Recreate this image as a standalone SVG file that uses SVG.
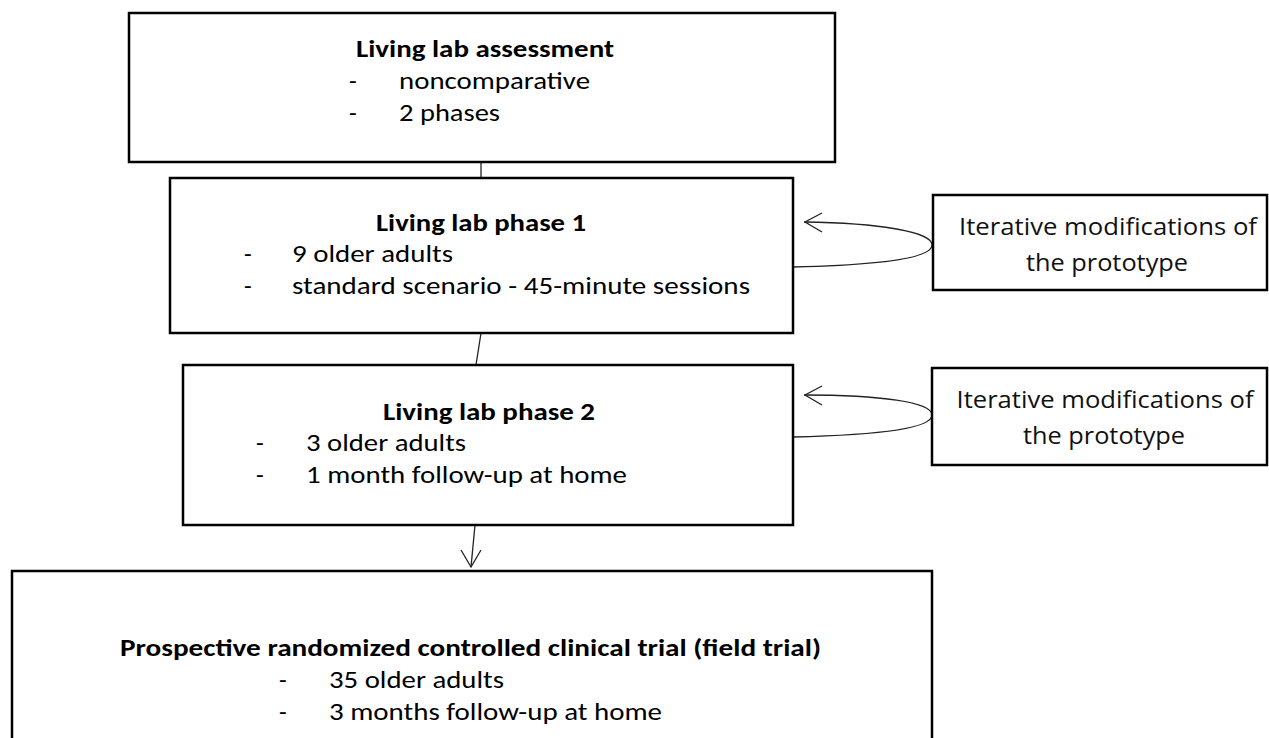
<svg xmlns="http://www.w3.org/2000/svg" width="1269" height="738" viewBox="0 0 1269 738">
<style>
.box{fill:#fff;stroke:#000;stroke-width:2.5}
.t{font-family:Carlito,Lato,"Liberation Sans",sans-serif;font-size:25px;fill:#000}
.b{font-weight:bold}
.r{font-family:"Open Sans","Noto Sans",sans-serif;font-size:23px;fill:#111;text-anchor:middle}
.c{fill:none;stroke:#222;stroke-width:1.3}
</style>
<rect width="1269" height="738" fill="#fff"/>
<g id="connectors">
<line class="c" x1="481" y1="162" x2="481" y2="178"/>
<line class="c" x1="481" y1="333" x2="476" y2="365"/>
<line class="c" x1="475" y1="525" x2="471" y2="567"/>
<polyline class="c" points="461,550 471,567 481,550"/>
<path class="c" d="M793,267 C880,265 932,258 932,245 C932,232 880,223 804,222"/>
<polyline class="c" points="822,213 805,222 822,232"/>
<path class="c" d="M793,437 C880,435 932,428 932,415 C932,402 880,395 804,395"/>
<polyline class="c" points="822,386 805,395 822,405"/>
</g>
<g id="node-assessment">
<rect class="box" x="129" y="13" width="706" height="149"/>
<text class="t b" x="356" y="57" textLength="258" lengthAdjust="spacingAndGlyphs">Living lab assessment</text>
<text class="t" x="349" y="89">-</text>
<text class="t" x="399" y="89" textLength="191" lengthAdjust="spacingAndGlyphs">noncomparative</text>
<text class="t" x="349" y="121">-</text>
<text class="t" x="399" y="121" textLength="101" lengthAdjust="spacingAndGlyphs">2 phases</text>
</g>
<g id="node-phase1">
<rect class="box" x="170" y="178" width="623" height="155"/>
<text class="t b" x="376" y="231" textLength="210" lengthAdjust="spacingAndGlyphs">Living lab phase 1</text>
<text class="t" x="244" y="262">-</text>
<text class="t" x="292" y="262" textLength="161" lengthAdjust="spacingAndGlyphs">9 older adults</text>
<text class="t" x="244" y="294">-</text>
<text class="t" x="292" y="294" textLength="458" lengthAdjust="spacingAndGlyphs">standard scenario - 45-minute sessions</text>
</g>
<g id="node-phase2">
<rect class="box" x="183" y="365" width="610" height="160"/>
<text class="t b" x="383" y="420" textLength="212" lengthAdjust="spacingAndGlyphs">Living lab phase 2</text>
<text class="t" x="256" y="451">-</text>
<text class="t" x="306" y="451" textLength="160" lengthAdjust="spacingAndGlyphs">3 older adults</text>
<text class="t" x="256" y="483">-</text>
<text class="t" x="306" y="483" textLength="321" lengthAdjust="spacingAndGlyphs">1 month follow-up at home</text>
</g>
<g id="node-trial">
<rect class="box" x="12" y="571" width="920" height="190"/>
<text class="t b" x="120" y="656" textLength="701" lengthAdjust="spacingAndGlyphs">Prospective randomized controlled clinical trial (field trial)</text>
<text class="t" x="279" y="688">-</text>
<text class="t" x="329" y="688" textLength="175" lengthAdjust="spacingAndGlyphs">35 older adults</text>
<text class="t" x="279" y="720">-</text>
<text class="t" x="329" y="720" textLength="333" lengthAdjust="spacingAndGlyphs">3 months follow-up at home</text>
</g>
<g id="node-iter1">
<rect class="box" x="933" y="195" width="334" height="95"/>
<text class="r" x="1108" y="235" textLength="298" lengthAdjust="spacingAndGlyphs">Iterative modifications of</text>
<text class="r" x="1107" y="271" textLength="162" lengthAdjust="spacingAndGlyphs">the prototype</text>
</g>
<g id="node-iter2">
<rect class="box" x="932" y="368" width="335" height="97"/>
<text class="r" x="1105" y="408" textLength="297" lengthAdjust="spacingAndGlyphs">Iterative modifications of</text>
<text class="r" x="1104" y="444" textLength="162" lengthAdjust="spacingAndGlyphs">the prototype</text>
</g>
</svg>
